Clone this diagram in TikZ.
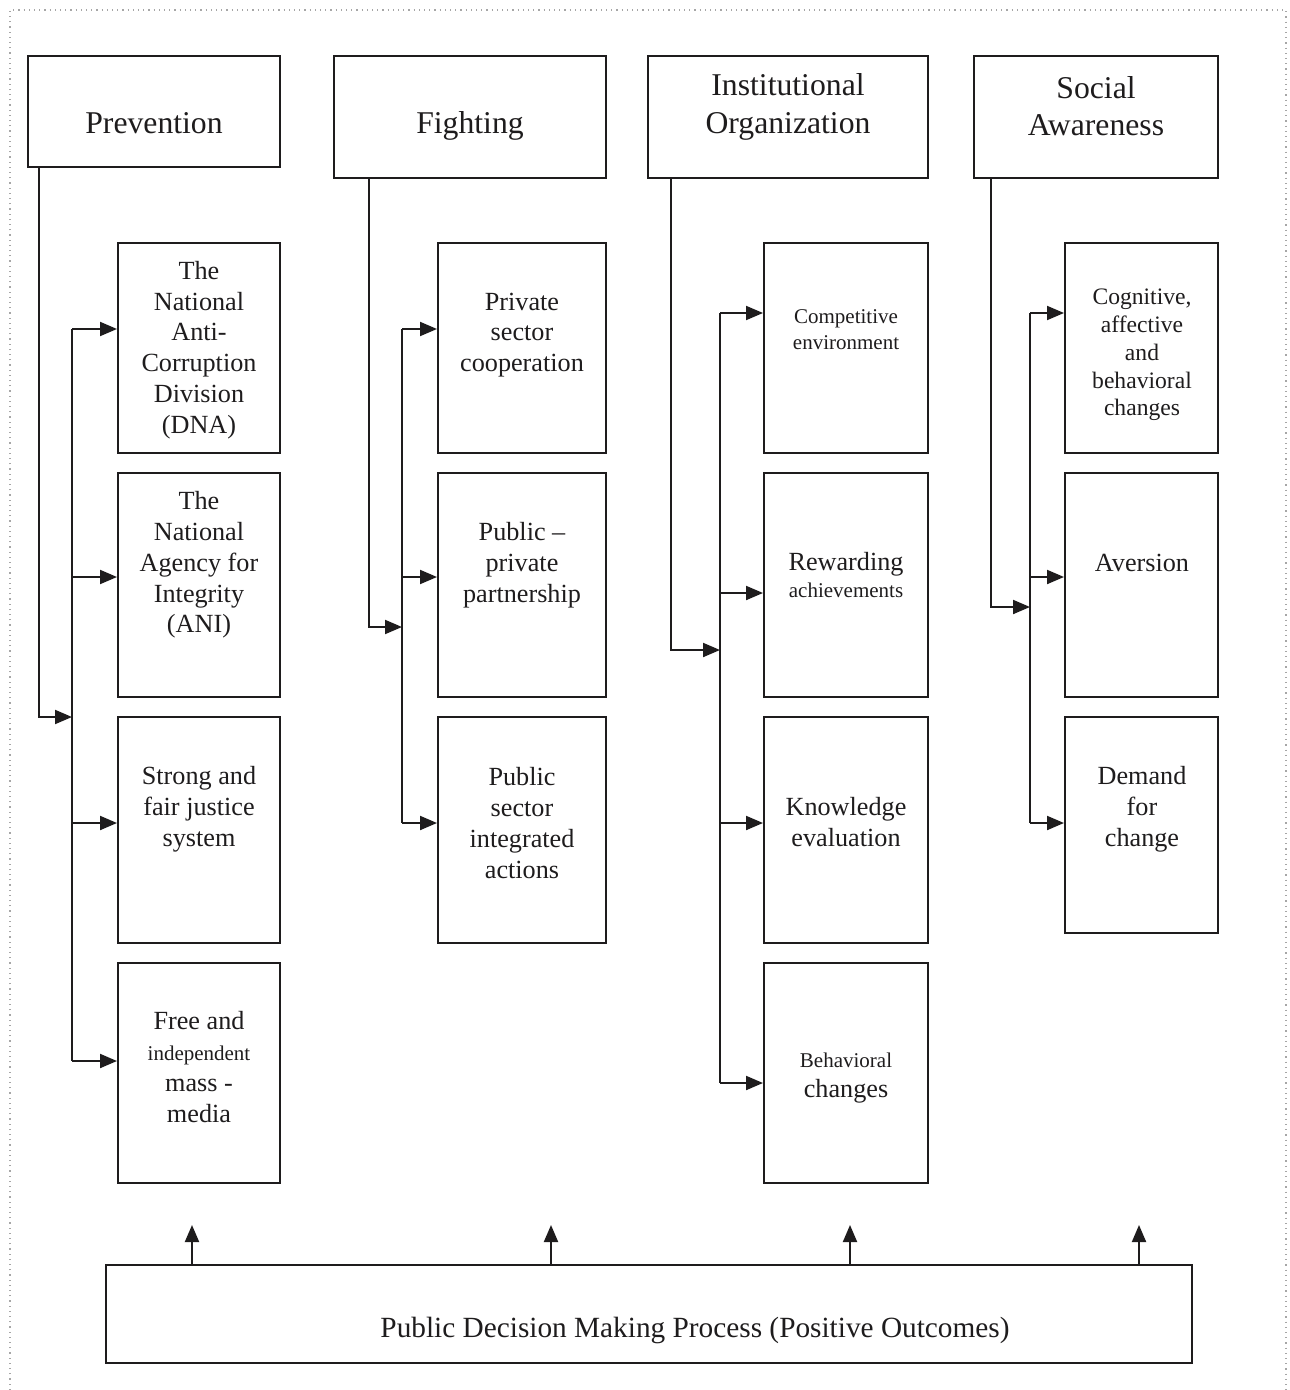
\documentclass[tikz,border=0pt]{standalone}
\usepackage{fontspec}
\setmainfont{Liberation Serif}
\usetikzlibrary{arrows.meta,fit,calc}
\definecolor{ink}{RGB}{30,28,29}
\newcommand{\fhead}{\fontsize{15.85}{18.75}\selectfont}
\newcommand{\fbody}{\fontsize{13.1}{15.4}\selectfont}
\newcommand{\fsmall}{\fontsize{10.5}{13}\selectfont}
\newcommand{\fcog}{\fontsize{11.8}{13.9}\selectfont}
\newcommand{\fbot}{\fontsize{14.65}{17}\selectfont}
\begin{document}
\begin{tikzpicture}[x=0.5pt,y=-0.5pt,
  box/.style={draw=ink,line width=1pt,inner sep=0pt,rectangle},
  txt/.style={inner sep=0pt,align=center,text=ink},
  ln/.style={draw=ink,line width=1pt},
  arr/.style={draw=ink,line width=1pt,-{Triangle[length=8.5pt,width=7pt]}}]
\useasboundingbox (0,0) rectangle (1289,1390);
% dotted frame
\draw[gray!70,dotted,line width=0.6pt] (10,1390) -- (10,10) -- (1286,10) -- (1286,1390);

% headers
\node[box,fit={(28,56)(280,167)}] (prev) {};
\node[box,fit={(334,56)(606,178)}] (figh) {};
\node[box,fit={(648,56)(928,178)}] (inst) {};
\node[box,fit={(974,56)(1218,178)}] (soci) {};
\node[txt,font=\fhead] at (154,123) {Prevention};
\node[txt,font=\fhead] at (470,126) {Fighting};
\node[txt,font=\fhead] at (788,107) {Institutional\\Organization};
\node[txt,font=\fhead] at (1096,106) {Social\\Awareness};

% prevention column
\node[box,fit={(118,243)(280,453)}] (dna) {};
\node[box,fit={(118,473)(280,697)}] (ani) {};
\node[box,fit={(118,717)(280,943)}] (jus) {};
\node[box,fit={(118,963)(280,1183)}] (med) {};
\node[txt,font=\fbody] at (199,350) {The\\National\\Anti-\\Corruption\\Division\\(DNA)};
\node[txt,font=\fbody] at (199,565) {The\\National\\Agency for\\Integrity\\(ANI)};
\node[txt,font=\fbody] at (199,809) {Strong and\\fair justice\\system};
\node[txt,font=\fbody] at (199,1067) {Free and\\{\fsmall independent}\\mass -\\media};

% fighting column
\node[box,fit={(438,243)(606,453)}] (pri) {};
\node[box,fit={(438,473)(606,697)}] (ppp) {};
\node[box,fit={(438,717)(606,943)}] (psi) {};
\node[txt,font=\fbody] at (522,335) {Private\\sector\\cooperation};
\node[txt,font=\fbody] at (522,565) {Public –\\private\\partnership};
\node[txt,font=\fbody] at (522,823) {Public\\sector\\integrated\\actions};

% institutional column
\node[box,fit={(764,243)(928,453)}] (com) {};
\node[box,fit={(764,473)(928,697)}] (rew) {};
\node[box,fit={(764,717)(928,943)}] (kno) {};
\node[box,fit={(764,963)(928,1183)}] (beh) {};
\node[txt,font=\fsmall] at (846,330) {Competitive\\environment};
\node[txt,font=\fbody] at (846,575) {Rewarding\\[-2pt]{\fsmall achievements}};
\node[txt,font=\fbody] at (846,822) {Knowledge\\evaluation};
\node[txt,font=\fbody] at (846,1078) {{\fsmall Behavioral}\\changes};

% social column
\node[box,fit={(1065,243)(1218,453)}] (cog) {};
\node[box,fit={(1065,473)(1218,697)}] (ave) {};
\node[box,fit={(1065,717)(1218,933)}] (dem) {};
\node[txt,font=\fcog] at (1142,355) {Cognitive,\\affective\\and\\behavioral\\changes};
\node[txt,font=\fbody] at (1142,563) {Aversion};
\node[txt,font=\fbody] at (1142,809) {Demand\\for\\change};

% bottom box
\node[box,fit={(106,1265)(1192,1363)}] (pdm) {};
\node[txt,font=\fbot] at (695,1330) {Public Decision Making Process (Positive Outcomes)};

% --- prevention connectors
\coordinate (pj) at (72,717);
\coordinate (pt) at (72,329);
\coordinate (pb) at (72,1061);
\coordinate (p2) at (72,577);
\coordinate (p3) at (72,823);
\draw[arr] ($(prev.south west)+(12,0)$) |- (pj);
\draw[ln] (pt) -- (pb);
\draw[arr] (pt) -- (pt -| dna.west);
\draw[arr] (p2) -- (p2 -| ani.west);
\draw[arr] (p3) -- (p3 -| jus.west);
\draw[arr] (pb) -- (pb -| med.west);

% --- fighting connectors
\coordinate (fj) at (402,627);
\coordinate (ft) at (402,329);
\coordinate (f2) at (402,577);
\coordinate (fb) at (402,823);
\draw[arr] ($(figh.south west)+(36,0)$) |- (fj);
\draw[ln] (ft) -- (fb);
\draw[arr] (ft) -- (ft -| pri.west);
\draw[arr] (f2) -- (f2 -| ppp.west);
\draw[arr] (fb) -- (fb -| psi.west);

% --- institutional connectors
\coordinate (ij) at (720,650);
\coordinate (it) at (720,313);
\coordinate (i2) at (720,593);
\coordinate (i3) at (720,823);
\coordinate (ib) at (720,1083);
\draw[arr] ($(inst.south west)+(24,0)$) |- (ij);
\draw[ln] (it) -- (ib);
\draw[arr] (it) -- (it -| com.west);
\draw[arr] (i2) -- (i2 -| rew.west);
\draw[arr] (i3) -- (i3 -| kno.west);
\draw[arr] (ib) -- (ib -| beh.west);

% --- social connectors
\coordinate (sj) at (1030,607);
\coordinate (st) at (1030,313);
\coordinate (s2) at (1030,577);
\coordinate (sb) at (1030,823);
\draw[arr] ($(soci.south west)+(18,0)$) |- (sj);
\draw[ln] (st) -- (sb);
\draw[arr] (st) -- (st -| cog.west);
\draw[arr] (s2) -- (s2 -| ave.west);
\draw[arr] (sb) -- (sb -| dem.west);

% --- bottom arrows
\coordinate (u1) at (192,1225);
\coordinate (u2) at (551,1225);
\coordinate (u3) at (850,1225);
\coordinate (u4) at (1139,1225);
\draw[arr] (u1 |- pdm.north) -- (u1);
\draw[arr] (u2 |- pdm.north) -- (u2);
\draw[arr] (u3 |- pdm.north) -- (u3);
\draw[arr] (u4 |- pdm.north) -- (u4);
\end{tikzpicture}
\end{document}
